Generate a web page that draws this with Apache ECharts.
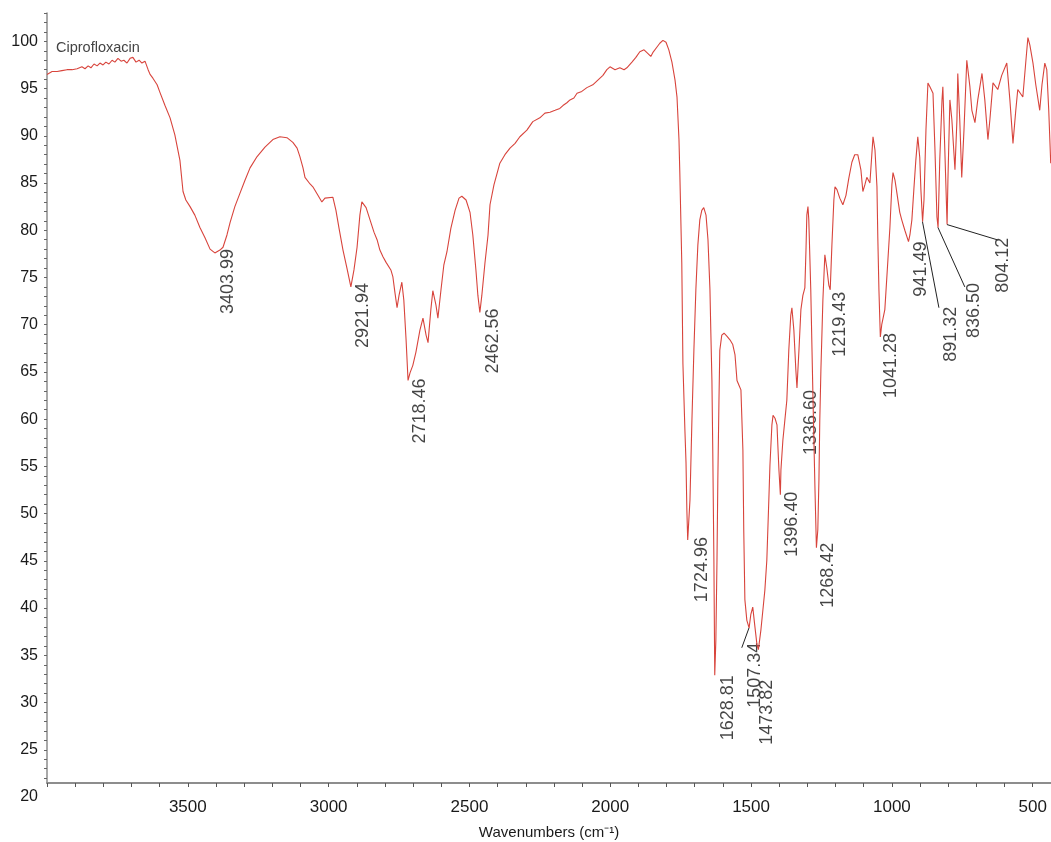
<!DOCTYPE html>
<html><head><meta charset="utf-8">
<script src="https://cdn.jsdelivr.net/npm/echarts@6/dist/echarts.min.js"></script>
<style>html,body{margin:0;padding:0;background:#fff}#c{width:1051px;height:842px}</style>
</head><body><div id="c"></div>
<script>
// ---- data (wavenumber in cm-1, %T) ----
const wavenumbers = [4000,3982,3964,3947,3929,3911,3893,3876,3865,3854,3844,3833,3822,3812,3801,3791,3780,3769,3759,3748,3737,3727,3716,3705,3695,3684,3673,3663,3652,
3641,3634,3624,3609,3599,3581,3563,3546,3528,3517,3507,3492,3475,3457,3439,3421,3404,3386,3375,3361,3350,3333,3315,3297,3279,3254,3226,3198,3173,3148,3127,3112,3102,3091,3084,3066,3056,3038,3024,3013,3006,2985,2974,2963,2949,2935,2921,2910,2899,2889,2882,2867,2853,2839,2828,2818,2807,2796,2789,2779,2772,2765,2757,2750,2740,2733,2725,2718,2711,2701,2690,2676,2665,2654,2647,2637,2630,2619,2612,2601,2591,2580,2566,2551,2537,2527,2512,2498,2488,2477,2470,2463,2456,2445,2434,2427,2413,2392,2374,2356,2338,2321,2296,2275,2250,2232,2214,2196,2179,2168,2154,2143,2129,2118,2101,2083,2062,2044,2026,2012,2001,1983,1966,1951,1941,1923,1909,1895,1880,1866,1856,1849,1834,1824,1813,1802,1792,1781,1770,1763,1756,1753,1746,1742,1735,1731,1728,1725,
1717,1710,1703,1696,1689,1682,1675,1668,1660,1653,1646,1643,1639,1636,1632,1629,1625,1621,1618,1614,1611,1604,1596,1586,1575,1565,1557,1550,1543,1536,1529,1526,1522,1515,1507,1501,1494,1487,1479,1474,1465,1458,1451,1444,1437,1433,1426,1422,1415,1408,1405,1401,1396,1394,1387,1380,1373,1366,1359,1355,1348,1341,1337,1330,1323,1316,1309,1305,1302,1298,1295,1288,1280,1273,1268,1263,1259,1256,1252,1245,1238,1231,1224,1219,1213,1206,1202,1195,1185,1174,1163,1153,1142,1132,1121,1110,1103,1096,1089,1078,1067,1060,1053,1050,1046,1041,1036,1025,1014,1007,1000,996,989,982,972,965,954,941,936,929,922,915,908,901,897,891,886,879,872,865,854,847,840,836,830,822,819,812,804,801,794,787,776,769,766,759,752,744,734,723,716,705,695,680,670,659,652,641,624,610,592,581,570,560,553,535,524,517,510,499,489,475,467,457,450,443,436];
const transmittance = [96.5,96.8,96.8,96.9,97.0,97.0,97.1,97.3,97.1,97.4,97.2,97.6,97.4,97.7,97.5,97.8,97.6,98.0,97.8,98.2,97.9,98.0,97.7,98.2,98.3,97.8,98.0,97.7,97.9,
97.0,96.5,96.1,95.4,94.6,93.2,91.9,90.1,87.4,84.1,83.2,82.5,81.6,80.3,79.2,78.0,77.6,77.9,78.2,79.5,80.8,82.5,83.9,85.3,86.6,87.8,88.8,89.6,89.9,89.8,89.3,88.7,87.8,86.6,85.6,84.9,84.6,83.7,83.0,83.4,83.5,83.5,82.1,80.2,77.9,76.0,74.0,75.8,78.2,81.6,83.0,82.4,81.1,79.8,79.0,77.9,77.2,76.6,76.5,75.8,75.1,73.5,71.8,73.1,74.5,72.6,68.4,64.1,64.9,65.7,67.1,69.4,70.7,68.9,68.1,71.6,73.6,72.1,70.7,73.7,76.3,77.7,80.2,82.1,83.4,83.6,83.2,81.9,79.5,75.8,73.1,71.3,73.1,76.5,79.5,82.7,84.8,87.1,88.0,88.7,89.2,89.9,90.6,91.5,91.9,92.4,92.5,92.7,92.9,93.2,93.5,93.8,94.0,94.5,94.7,95.1,95.4,95.9,96.4,97.0,97.3,97.0,97.2,97.0,97.2,97.8,98.3,98.9,99.1,98.7,98.4,98.8,99.4,99.8,100.1,99.9,99.1,97.8,95.9,94.1,89.6,86.1,76.5,65.9,58.9,55.4,50.4,47.2,
51.4,59.9,67.3,73.7,78.4,81.1,82.1,82.4,81.6,79.0,73.7,69.4,64.1,56.7,45.1,32.9,36.6,45.1,53.6,62.0,67.3,68.9,69.1,68.8,68.4,67.9,66.8,64.1,63.6,63.1,56.7,48.3,40.9,38.7,37.9,39.3,40.1,38.2,36.1,35.6,37.7,39.8,41.9,45.1,51.4,55.1,59.4,60.4,60.1,59.4,57.3,54.6,52.0,54.6,57.8,59.9,62.0,67.3,71.0,71.8,69.4,65.2,63.3,67.3,71.6,73.1,73.9,77.9,81.6,82.5,81.1,73.7,62.0,52.5,46.4,48.3,53.6,59.9,65.2,72.6,77.4,76.0,74.2,73.7,78.4,83.2,84.6,84.3,83.4,82.7,83.7,85.5,87.2,88.0,88.0,86.4,84.1,84.8,85.6,85.0,89.9,88.5,84.6,79.3,73.7,68.7,70.0,71.6,76.9,80.3,84.8,86.1,85.3,83.9,81.9,81.1,80.0,78.8,79.5,81.1,84.3,87.4,89.9,87.7,84.3,80.9,83.2,90.6,95.6,95.2,94.5,88.5,81.4,80.3,87.4,93.8,95.2,88.5,80.6,85.3,93.8,91.7,86.4,91.7,96.6,91.7,85.6,90.6,98.0,95.2,92.7,91.4,93.8,96.6,93.8,89.6,91.7,95.6,94.9,96.4,97.7,93.8,89.2,92.7,94.9,94.1,98.0,100.4,99.6,97.7,95.4,92.7,95.4,97.7,97.0,92.7,87.1];

const peakLabels = ['3403.99','2921.94','2718.46','2462.56','1724.96','1628.81','1507.34','1473.82','1396.40','1336.60','1268.42','1219.43','1041.28','941.49','891.32','836.50','804.12'];
const peakWn = [3403.99,2921.94,2718.46,2462.56,1724.96,1628.81,1507.34,1473.82,1396.40,1336.60,1268.42,1219.43,1041.28,941.49,891.32,836.50,804.12];
const peakT = [77.6,74.0,64.1,71.3,47.2,32.9,37.9,35.6,52.0,63.3,46.4,73.7,68.7,78.8,80.9,80.3,80.6];
// leader line ends (null = label placed at the peak itself)
const leaderWn = [null,null,null,null,null,null,1533,null,null,null,null,null,null,null,833,741,627];
const leaderT  = [null,null,null,null,null,null,35.8,null,null,null,null,null,null,null,71.8,74.0,79.0];

const xLabelValues = [3500,3000,2500,2000,1500,1000,500];
const yLabelValues = [20,25,30,35,40,45,50,55,60,65,70,75,80,85,90,95,100];
const sampleName = 'Ciprofloxacin';

// ---- layout / style ----
const X_MIN = 435, X_MAX = 4000, Y_MIN = 20, Y_MAX = 103;
const GRID_LEFT = 47, GRID_TOP = 13, BOTTOM_LABELS = 45, BOTTOM_AXIS = 59, H = 842;
const yMinAxis = Y_MIN + (BOTTOM_AXIS - BOTTOM_LABELS) * (Y_MAX - Y_MIN) / (H - GRID_TOP - BOTTOM_LABELS);
// screen-pixel nudges (right, down) of each label's top end from its anchor
const labelNudge = [[13,-4],[12,-4],[12,-2],[13,-4],[14,-3],[13,0],[13,-5],[9,30],[12,-3],[14,2],[12,-5],[10,2],[11,-4],[13,0],[12,-1],[9,-4],[6,-2]];

const xTicks = []; for (let v = 500; v <= 4000; v += 100) xTicks.push(v);
const yTicks = []; for (let v = 22; v <= 103; v += 1) yTicks.push(v);

const REG = "'Liberation Sans',Arial,sans-serif";

const spectrum = wavenumbers.map((w, i) => [w, transmittance[i]]);
if (wavenumbers.length !== transmittance.length) throw new Error('length mismatch');

const anchors = peakWn.map((w, i) => ({
  value: leaderWn[i] != null ? [leaderWn[i], leaderT[i]] : [w, peakT[i]],
  name: peakLabels[i]
}));
const leaders = [];
peakWn.forEach((w, i) => {
  if (leaderWn[i] != null) leaders.push([{ coord: [w, peakT[i]] }, { coord: [leaderWn[i], leaderT[i]] }]);
});

const chart = echarts.init(document.getElementById('c'), null, { renderer: 'canvas' });
chart.setOption({
  animation: false,
  backgroundColor: '#fff',
  title: {
    text: sampleName, left: 51, top: 35,
    textStyle: { fontFamily: REG, fontSize: 14.5, fontWeight: 'normal', color: '#444' }
  },
  grid: [
    { left: GRID_LEFT, right: 0, top: GRID_TOP, bottom: BOTTOM_AXIS, containLabel: false, outerBoundsMode: 'none' },
    { left: GRID_LEFT, right: 0, top: GRID_TOP, bottom: BOTTOM_LABELS, containLabel: false, outerBoundsMode: 'none' }
  ],
  xAxis: [
    {
      gridIndex: 0, type: 'value', inverse: true, min: X_MIN, max: X_MAX,
      splitLine: { show: false },
      axisLine: { show: true, lineStyle: { color: '#8d8d8d', width: 2 } },
      axisTick: { show: true, customValues: xTicks, length: 4, lineStyle: { color: '#555', width: 1 } },
      axisLabel: { customValues: xLabelValues, formatter: v => String(v), margin: 16, fontFamily: REG, fontSize: 17, color: '#1a1a1a' },
      name: 'Wavenumbers (cm\u207B\u00B9)', nameLocation: 'middle', nameGap: 42,
      nameTextStyle: { fontFamily: REG, fontSize: 15, color: '#1a1a1a' }
    },
    { gridIndex: 1, type: 'value', inverse: true, min: X_MIN, max: X_MAX, show: false }
  ],
  yAxis: [
    {
      gridIndex: 0, type: 'value', min: yMinAxis, max: Y_MAX,
      splitLine: { show: false },
      axisLine: { show: true, lineStyle: { color: '#8d8d8d', width: 1.5 } },
      axisTick: { show: true, customValues: yTicks, length: 3, lineStyle: { color: '#666', width: 1 } },
      axisLabel: { show: false }
    },
    {
      gridIndex: 1, type: 'value', min: Y_MIN, max: Y_MAX,
      splitLine: { show: false }, axisLine: { show: false }, axisTick: { show: false },
      axisLabel: { customValues: yLabelValues, formatter: v => String(v), margin: 9, fontFamily: REG, fontSize: 16, color: '#1a1a1a' }
    }
  ],
  series: [
    {
      type: 'line', xAxisIndex: 1, yAxisIndex: 1, data: spectrum,
      showSymbol: false, symbol: 'none', smooth: false,
      lineStyle: { color: '#d8443c', width: 1.1 }, silent: true
    },
    {
      type: 'scatter', xAxisIndex: 1, yAxisIndex: 1, data: anchors,
      symbolSize: 0.1, itemStyle: { color: 'rgba(0,0,0,0)' }, silent: true,
      label: {
        show: true, position: 'inside', rotate: 90, align: 'right', verticalAlign: 'middle',
        formatter: p => p.name, fontFamily: REG, fontSize: 18, color: '#151515'
      },
      // labelLayout shifts act in the rotated label frame: convert screen nudges
      labelLayout: p => ({ dx: -labelNudge[p.dataIndex][1], dy: labelNudge[p.dataIndex][0] }),
      markLine: {
        silent: true, symbol: ['none', 'none'], animation: false,
        label: { show: false },
        lineStyle: { color: '#222', width: 1, type: 'solid' },
        data: leaders
      }
    }
  ]
});
</script>
</body></html>
